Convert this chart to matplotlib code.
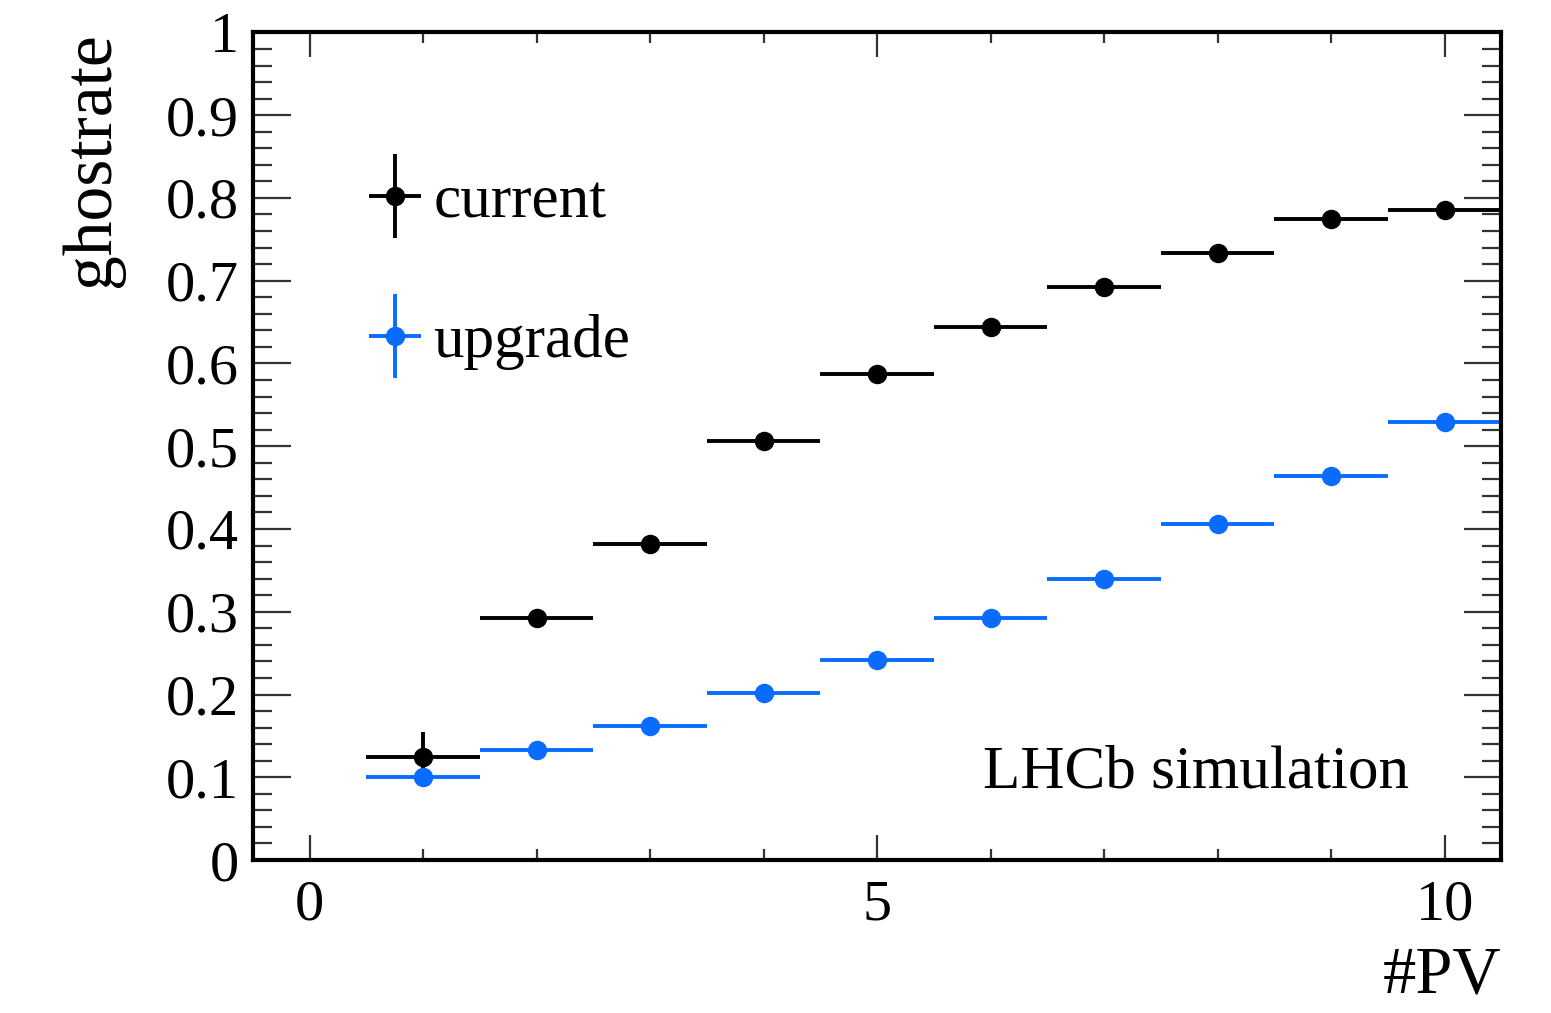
import numpy as np
import matplotlib.pyplot as plt
from matplotlib.ticker import MultipleLocator
from matplotlib.legend_handler import HandlerErrorbar

# ghost rate vs number of primary vertices
npv = [1, 2, 3, 4, 5, 6, 7, 8, 9, 10]
current = [0.124, 0.293, 0.382, 0.506, 0.587, 0.644, 0.692, 0.733, 0.774, 0.785]
current_err = [0.031, 0.004, 0.003, 0.003, 0.002, 0.002, 0.002, 0.002, 0.002, 0.002]
upgrade = [0.100, 0.133, 0.162, 0.202, 0.242, 0.292, 0.339, 0.406, 0.464, 0.529]
upgrade_err = [0.003, 0.002, 0.002, 0.002, 0.002, 0.002, 0.002, 0.002, 0.002, 0.002]
bin_half = 0.5

plt.rcParams['font.family'] = ['Liberation Serif', 'DejaVu Serif']

fig = plt.figure(figsize=(15.51, 10.13), dpi=100)
ax = fig.add_axes([0.163, 0.151, 0.805, 0.817])

blue = '#0a6cff'
h1 = ax.errorbar(npv, current, yerr=current_err, xerr=bin_half, fmt='o', color='black',
                 ms=13, elinewidth=2.8, capsize=0, label='current')
h2 = ax.errorbar(npv, upgrade, yerr=upgrade_err, xerr=bin_half, fmt='o', color=blue,
                 ms=13, elinewidth=2.8, capsize=0, label='upgrade')

ax.set_xlim(-0.5, 10.5)
ax.set_ylim(0, 1)
ax.xaxis.set_major_locator(MultipleLocator(5))
ax.xaxis.set_minor_locator(MultipleLocator(1))
ax.yaxis.set_major_locator(MultipleLocator(0.1))
ax.yaxis.set_minor_locator(MultipleLocator(0.02))
ax.yaxis.set_major_formatter(plt.FuncFormatter(lambda v, p: '%g' % round(v, 2)))

for s in ax.spines.values():
    s.set_linewidth(3)
ax.tick_params(which='both', direction='in', top=True, right=True, labelsize=42, color='#333333')
ax.tick_params(axis='y', which='major', length=27, width=1.6, pad=10)
ax.tick_params(axis='y', which='minor', length=14, width=1.6)
ax.tick_params(axis='x', which='major', length=18, width=1.6, pad=14)
ax.tick_params(axis='x', which='minor', length=8, width=1.6)

ax.set_xlabel('#PV', fontsize=48, loc='right', labelpad=10)
ax.set_ylabel('ghostrate', fontsize=50, loc='top', labelpad=30)

ax.text(0.926, 0.105, 'LHCb simulation', transform=ax.transAxes, fontsize=44,
        ha='right', va='center')

leg = ax.legend(handles=[h1, h2], loc='upper left', bbox_to_anchor=(0.092, 0.828),
                frameon=False, fontsize=44, handlelength=0.9, handletextpad=0.18,
                labelspacing=1.37, borderaxespad=0, borderpad=0,
                handler_map={type(h1): HandlerErrorbar(xerr_size=0.43, yerr_size=0.69)})

fig.savefig('out.png', dpi=100)
